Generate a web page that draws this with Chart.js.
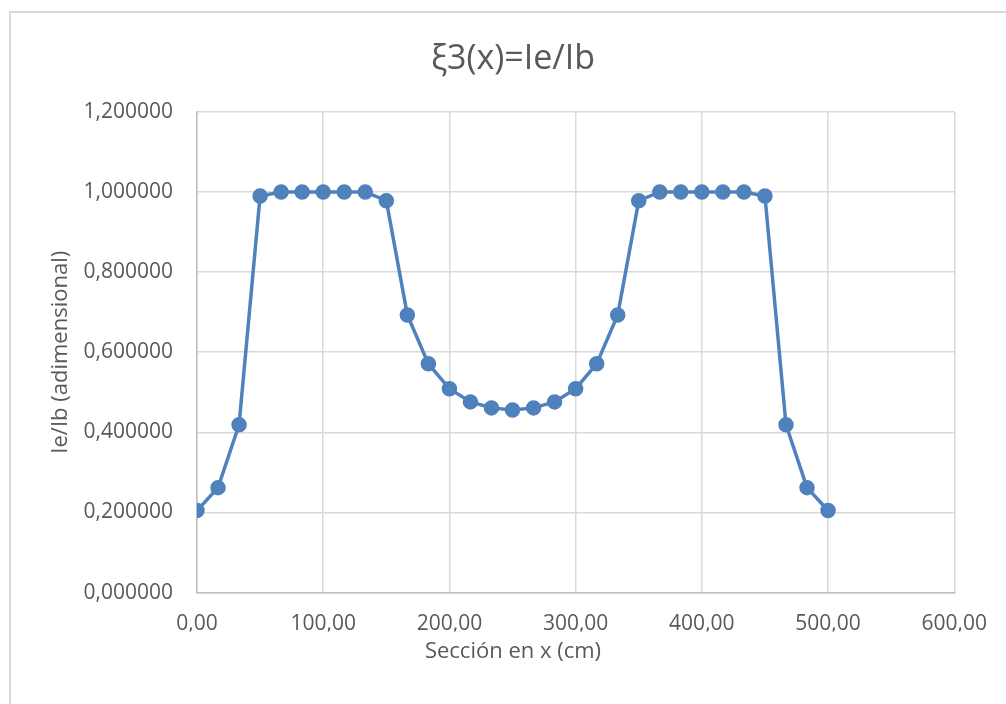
<!DOCTYPE html>
<html>
<head>
<meta charset="utf-8">
<script src="https://cdn.jsdelivr.net/npm/chart.js@4.4.1/dist/chart.umd.min.js"></script>
<style>
  body { margin: 0; background: #fff; }
  #frame { position: absolute; left: 9px; top: 11px; width: 1010px; height: 710px; border: 2px solid #d9d9d9; box-sizing: border-box; }
  #grafico { position: absolute; left: 0; top: 0; }
</style>
</head>
<body>
<div id="frame"></div>
<canvas id="grafico" width="1006" height="704"></canvas>
<script>
// secciones en x (cm)
var secciones = [0.00, 16.67, 33.33, 50.00, 66.67, 83.33, 100.00, 116.67, 133.33, 150.00,
  166.67, 183.33, 200.00, 216.67, 233.33, 250.00, 266.67, 283.33, 300.00, 316.67,
  333.33, 350.00, 366.67, 383.33, 400.00, 416.67, 433.33, 450.00, 466.67, 483.33, 500.00];

// Ie/Ib
var relacion = [0.205, 0.262, 0.419, 0.990, 1.000, 1.000, 1.000, 1.000, 1.000, 0.978,
  0.693, 0.571, 0.509, 0.476, 0.461, 0.456, 0.461, 0.476, 0.509, 0.571,
  0.693, 0.978, 1.000, 1.000, 1.000, 1.000, 1.000, 0.990, 0.419, 0.262, 0.205];

var xTicks = [0, 100, 200, 300, 400, 500, 600];
var yTicks = [0, 0.2, 0.4, 0.6, 0.8, 1.0, 1.2];

var puntos = secciones.map(function(x, i) {
  return { x: x, y: relacion[i] };
});

var gris = '#595959';
var fuente = "'Open Sans', 'Noto Sans', sans-serif";

var ctx = document.getElementById('grafico').getContext('2d');
var chart = new Chart(ctx, {
  type: 'line',
  data: {
    datasets: [{
      data: puntos,
      borderColor: '#4F81BD',
      backgroundColor: '#4F81BD',
      borderWidth: 3.5,
      pointRadius: 7,
      pointBorderWidth: 1.5,
      pointBackgroundColor: '#4F81BD',
      tension: 0,
      fill: false
    }]
  },
  options: {
    responsive: false,
    animation: false,
    layout: { padding: { left: 20, right: 0, top: 0, bottom: 0 } },
    plugins: {
      legend: { display: false },
      tooltip: { enabled: false },
      title: {
        display: true,
        text: 'ξ3(x)=Ie/Ib',
        color: gris,
        font: { family: fuente, size: 34, weight: 'normal' },
        padding: { top: 39, bottom: 32 }
      },
      subtitle: {
        display: true,
        position: 'bottom',
        text: 'Sección en x (cm)',
        color: gris,
        font: { family: fuente, size: 22, weight: 'normal' },
        padding: { top: 7, bottom: 39 }
      }
    },
    scales: {
      x: {
        type: 'linear',
        min: 0,
        max: 600,
        afterBuildTicks: function(scale) {
          scale.ticks = xTicks.map(function(v) { return { value: v }; });
        },
        afterFit: function(scale) { scale.height = 39; },
        ticks: {
          color: gris,
          padding: 19,
          maxRotation: 0,
          font: { family: fuente, size: 21 },
          callback: function(v) { return v.toFixed(2).replace('.', ','); }
        },
        grid: { color: '#d9d9d9', lineWidth: 1.5, drawTicks: false },
        border: { color: '#bfbfbf', width: 1.5 }
      },
      y: {
        min: 0,
        max: 1.2,
        afterBuildTicks: function(scale) {
          scale.ticks = yTicks.map(function(v) { return { value: v }; });
        },
        afterFit: function(scale) { scale.width = 177; },
        ticks: {
          color: gris,
          padding: 24,
          font: { family: fuente, size: 21 },
          callback: function(v) { return v.toFixed(6).replace('.', ','); }
        },
        grid: { color: '#d9d9d9', lineWidth: 1.5, drawTicks: false },
        border: { color: '#bfbfbf', width: 1.5 },
        title: {
          display: true,
          text: 'Ie/Ib (adimensional)',
          color: gris,
          font: { family: fuente, size: 22 },
          padding: { top: 28, bottom: 0 }
        }
      },
      // eje vacio a la derecha solo para dejar el margen
      y2: {
        position: 'right',
        display: true,
        afterFit: function(scale) { scale.width = 51; },
        ticks: { display: false },
        grid: { display: false },
        border: { display: false }
      }
    }
  }
});
</script>
</body>
</html>
